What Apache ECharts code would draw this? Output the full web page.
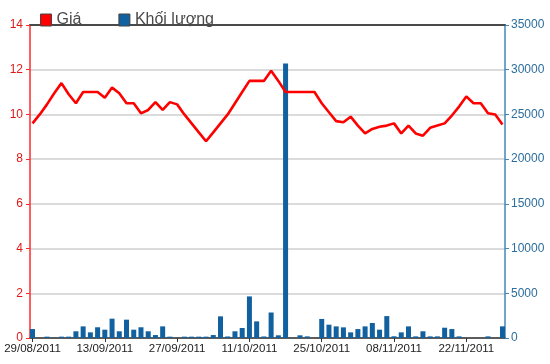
<!DOCTYPE html>
<html>
<head>
<meta charset="utf-8">
<script src="https://cdn.jsdelivr.net/npm/echarts@6/dist/echarts.min.js"></script>
<style>html,body{margin:0;padding:0;background:#fff}#c{width:550px;height:364px}</style>
</head>
<body>
<div id="c"></div>
<script>
var dates = ["29/08/2011","30/08/2011","31/08/2011","01/09/2011","05/09/2011","06/09/2011","07/09/2011","08/09/2011","09/09/2011","12/09/2011",
"13/09/2011","14/09/2011","15/09/2011","16/09/2011","19/09/2011","20/09/2011","21/09/2011","22/09/2011","23/09/2011","26/09/2011",
"27/09/2011","28/09/2011","29/09/2011","30/09/2011","03/10/2011","04/10/2011","05/10/2011","06/10/2011","07/10/2011","10/10/2011",
"11/10/2011","12/10/2011","13/10/2011","14/10/2011","17/10/2011","18/10/2011","19/10/2011","20/10/2011","21/10/2011","24/10/2011",
"25/10/2011","26/10/2011","27/10/2011","28/10/2011","31/10/2011","01/11/2011","02/11/2011","03/11/2011","04/11/2011","07/11/2011",
"08/11/2011","09/11/2011","10/11/2011","11/11/2011","14/11/2011","15/11/2011","16/11/2011","17/11/2011","18/11/2011","21/11/2011",
"22/11/2011","23/11/2011","24/11/2011","25/11/2011","28/11/2011","29/11/2011"];

var price = [9.6,10.0,10.45,10.95,11.4,10.9,10.5,11.0,11.0,11.0,
10.75,11.2,10.95,10.5,10.5,10.05,10.2,10.55,10.2,10.55,
10.45,10.0,9.6,9.2,8.8,9.2,9.6,10.0,10.5,11.0,
11.5,11.5,11.5,11.95,11.5,11.0,11.0,11.0,11.0,11.0,
10.5,10.1,9.7,9.65,9.9,9.5,9.15,9.35,9.45,9.5,
9.6,9.15,9.5,9.15,9.05,9.4,9.5,9.6,9.95,10.35,
10.8,10.5,10.5,10.05,10.0,9.55];

var volume = [1000,0,150,0,150,150,750,1300,630,1200,
930,2160,750,2050,930,1200,750,330,1300,150,
0,150,150,150,150,330,2420,170,750,1120,
4650,1860,170,2850,300,30700,0,300,180,0,
2130,1490,1300,1190,630,1000,1300,1680,930,2450,
190,630,1300,180,750,180,180,1150,1000,180,
0,0,0,180,0,1300];

var priceTicks = [0,2,4,6,8,10,12,14];
var volumeTicks = [0,5000,10000,15000,20000,25000,30000,35000];
var labelIdx = [0,10,20,30,40,50,60];
var seriesNames = ["Giá","Khối lượng"];

var chart = echarts.init(document.getElementById('c'), null, {renderer:'canvas'});
var font = '"Liberation Sans", Arial, sans-serif';
var priceData = price.map(function(v,i){return [i,v];});
var volData = volume.map(function(v,i){return [i,v];});

chart.setOption({
  animation:false,
  textStyle:{fontFamily:font},
  legend:{
    left:35, top:7, itemWidth:11, itemHeight:12, itemGap:37, icon:'rect',
    textStyle:{fontSize:16, color:'#4a4a4a', fontFamily:font},
    itemStyle:{borderColor:'#444', borderWidth:1},
    data:[{name:seriesNames[0], itemStyle:{color:'#ff0000'}},{name:seriesNames[1], itemStyle:{color:'#11609f'}}]
  },
  grid:{left:30, right:45, top:25, bottom:26},
  xAxis:[{
    type:'value', min:-0.35, max:65.35,
    splitLine:{show:false},
    axisLine:{onZero:false, lineStyle:{color:'#333', width:1.5}},
    axisTick:{customValues:labelIdx, length:4, lineStyle:{color:'#333'}},
    axisLabel:{customValues:labelIdx, formatter:function(v){return dates[Math.round(v)];}, color:'#222', fontSize:11.5, margin:5, fontFamily:font}
  },{
    type:'value', position:'top', min:-0.35, max:65.35,
    splitLine:{show:false}, axisTick:{show:false}, axisLabel:{show:false},
    axisLine:{show:true, onZero:false, lineStyle:{color:'#4a4a4a', width:2}}
  }],
  yAxis:[{
    type:'value', min:priceTicks[0], max:priceTicks[priceTicks.length-1], interval:2, position:'left',
    axisLine:{show:true, onZero:false, lineStyle:{color:'#ff2a2a', width:1.5}},
    axisTick:{show:true, length:4, lineStyle:{color:'#ff2a2a'}},
    axisLabel:{color:'#e01818', fontSize:12, margin:7, fontFamily:font},
    splitLine:{show:true, lineStyle:{color:'#cfcfcf', width:1.5}}
  },{
    type:'value', min:volumeTicks[0], max:volumeTicks[volumeTicks.length-1], interval:5000, position:'right',
    axisLine:{show:true, onZero:false, lineStyle:{color:'#3f88ba', width:1.5}},
    axisTick:{show:true, length:4, lineStyle:{color:'#3f88ba'}},
    axisLabel:{color:'#2d6d9c', fontSize:12, margin:6, fontFamily:font, formatter:function(v){return String(v);}},
    splitLine:{show:false}
  }],
  series:[{
    name:seriesNames[0], type:'line', yAxisIndex:0, xAxisIndex:0, data:priceData,
    showSymbol:false, symbol:'none',
    lineStyle:{color:'#ff0000', width:2.6}, itemStyle:{color:'#ff0000'}
  },{
    name:seriesNames[1], type:'bar', yAxisIndex:1, xAxisIndex:0, data:volData,
    barWidth:5, itemStyle:{color:'#11609f'}
  }]
});
</script>
</body>
</html>
